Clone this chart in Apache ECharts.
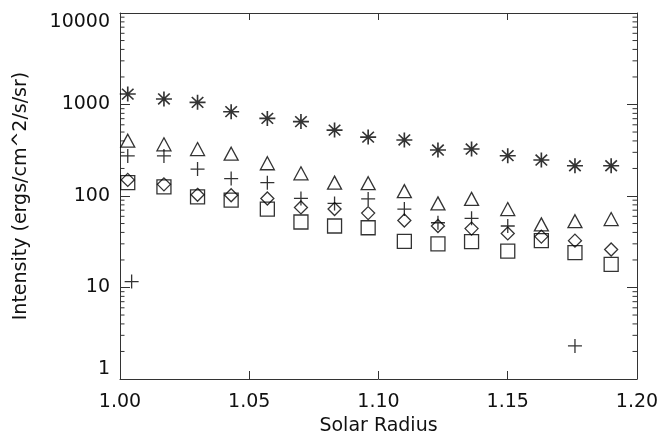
<!DOCTYPE html>
<html><head><meta charset="utf-8">
<script src="https://cdn.jsdelivr.net/npm/echarts@6/dist/echarts.min.js"></script>
<style>html,body{margin:0;padding:0;background:#fff}#c{width:662px;height:441px}</style>
</head><body><div id="c"></div>
<script>
// ---- data ----
const radius   = [1.003,1.017,1.030,1.043,1.057,1.070,1.083,1.096,1.110,1.123,1.136,1.150,1.163,1.176,1.190];
const asterisk = [1300,1150,1055,835,705,650,525,440,410,318,326,276,247,214,214];
const triangle = [402,367,326,290,228,177,140,138,113,83,93,72,49,53,56];
const plus     = [274,274,197,155,140,94,83,93,72,51,57,47,null,2.3,null];
const plusExtraX = [1.0045];
const plusExtraY = [11.6];
const diamond  = [150,134,103,102,94,75,72,65,54,47,44,39,36,32.5,26];
const square   = [140,126,98,90,72,52,47,45,32,30,31.7,25,32.5,24,17.9];
const xTickLabels = ['1.00','1.05','1.10','1.15','1.20'];
const yTickLabels = ['1','10','100','1000','10000'];
const minorDecades = [1,10,100,1000];
const minorMults = [2,3,4,5,6,7,8,9];

const FONT = 'DejaVu Sans';
const INK = '#111';

function pairs(xs, ys){ const out=[]; for(let i=0;i<xs.length;i++){ if(ys[i]!=null) out.push([xs[i], ys[i]]); } return out; }

const minorVals = [];
minorDecades.forEach(d=>minorMults.forEach(m=>minorVals.push([1.0, d*m])));

const xMin = parseFloat(xTickLabels[0]), xMax = parseFloat(xTickLabels[xTickLabels.length-1]);
const yMin = parseFloat(yTickLabels[0]), yMax = parseFloat(yTickLabels[yTickLabels.length-1]);

const lineStyle = {color:'#333', width:1};
const mk = {color:'rgba(0,0,0,0)', borderColor:'#000', borderWidth:1.3};
const mkBold = {color:'rgba(0,0,0,0)', borderColor:'#000', borderWidth:1.6};

const asteriskPath = 'path://M0,-1L0,1M-1,0L1,0M-0.72,-0.72L0.72,0.72M-0.72,0.72L0.72,-0.72';
const plusPath = 'path://M0,-1L0,1M-1,0L1,0';

const chart = echarts.init(document.getElementById('c'), null, {renderer:'canvas'});
chart.setOption({
  animation:false,
  backgroundColor:'#fff',
  grid:{left:120, right:25, top:13, bottom:62, containLabel:false},
  xAxis:[
    {type:'value', min:xMin, max:xMax, interval:0.05, position:'bottom',
     axisLine:{show:true, onZero:false, lineStyle},
     axisTick:{show:true, inside:true, length:8, lineStyle},
     axisLabel:{show:true, margin:14, fontSize:19, fontFamily:FONT, color:INK,
       formatter:v=>xTickLabels[Math.round((v-xMin)/0.05)] },
     splitLine:{show:false},
     name:'Solar Radius', nameLocation:'middle', nameGap:38,
     nameTextStyle:{fontSize:19, fontFamily:FONT, color:INK}},
    {type:'value', min:xMin, max:xMax, interval:0.05, position:'top',
     axisLine:{show:true, onZero:false, lineStyle},
     axisTick:{show:true, inside:true, length:7, lineStyle},
     axisLabel:{show:false}, splitLine:{show:false}}
  ],
  yAxis:[
    {type:'log', logBase:10, min:yMin, max:yMax, position:'left',
     axisLine:{show:true, onZero:false, lineStyle},
     axisTick:{show:true, inside:true, length:10, lineStyle},
     axisLabel:{show:true, margin:10, fontSize:19, fontFamily:FONT, color:INK,
       verticalAlignMinLabel:'bottom', verticalAlignMaxLabel:'top',
       formatter:v=>yTickLabels[Math.round(Math.log10(v))] },
     splitLine:{show:false}, minorTick:{show:false},
     name:'Intensity (ergs/cm^2/s/sr)', nameLocation:'middle', nameGap:89,
     nameTextStyle:{fontSize:19, fontFamily:FONT, color:INK}},
    {type:'log', logBase:10, min:yMin, max:yMax, position:'right',
     axisLine:{show:true, onZero:false, lineStyle},
     axisTick:{show:true, inside:true, length:10, lineStyle},
     axisLabel:{show:false}, splitLine:{show:false}}
  ],
  series:[
    {type:'custom', xAxisIndex:0, yAxisIndex:0, silent:true, clip:false,
     data:minorVals,
     renderItem:(params, api)=>{
       const v = api.value(1);
       const l = api.coord([xMin, v]);
       const r = api.coord([xMax, v]);
       return {type:'group', children:[
         {type:'line', shape:{x1:l[0], y1:l[1], x2:l[0]+4.5, y2:l[1]}, style:{stroke:'#333', lineWidth:1}},
         {type:'line', shape:{x1:r[0], y1:r[1], x2:r[0]-4.5, y2:r[1]}, style:{stroke:'#333', lineWidth:1}}
       ]};
     }},
    {type:'scatter', name:'asterisk', data:pairs(radius, asterisk), symbol:asteriskPath, symbolSize:[16,15], itemStyle:mkBold, silent:true},
    {type:'scatter', name:'triangle', data:pairs(radius, triangle), symbol:'triangle', symbolSize:[14,13], itemStyle:mk, silent:true},
    {type:'scatter', name:'plus', data:pairs(radius, plus).concat(pairs(plusExtraX, plusExtraY)), symbol:plusPath, symbolSize:[14,14], itemStyle:mk, silent:true},
    {type:'scatter', name:'diamond', data:pairs(radius, diamond), symbol:'diamond', symbolSize:[13,13], itemStyle:mk, silent:true},
    {type:'scatter', name:'square', data:pairs(radius, square), symbol:'rect', symbolSize:[14,14], itemStyle:mk, silent:true}
  ]
});
</script>
</body></html>
